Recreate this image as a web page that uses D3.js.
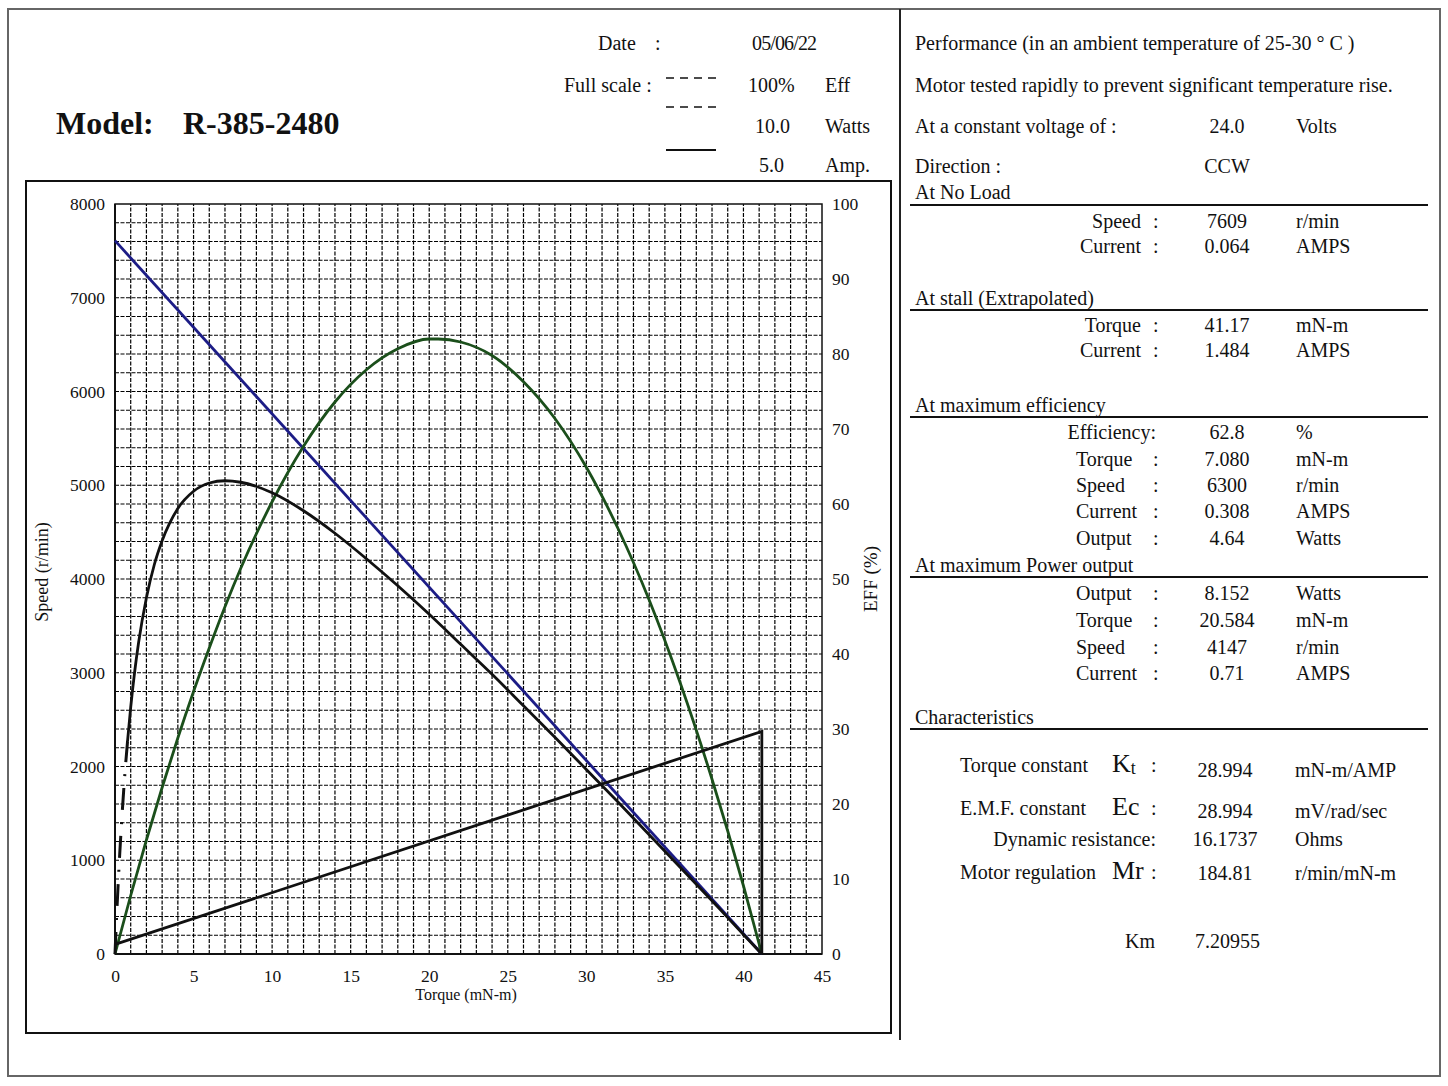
<!DOCTYPE html>
<html>
<head>
<meta charset="utf-8">
<script src="https://cdn.jsdelivr.net/npm/d3@7"></script>
<style>
  body { margin: 0; background: #fff; }
  svg text { font-family: "Liberation Serif", "Times New Roman", serif; fill: #111; }
</style>
</head>
<body>
<svg width="1448" height="1086"></svg>
<script>
// values
const xTicks = [0, 5, 10, 15, 20, 25, 30, 35, 40, 45]
const speedTicks = [0, 1000, 2000, 3000, 4000, 5000, 6000, 7000, 8000]
const pctTicks = [0, 10, 20, 30, 40, 50, 60, 70, 80, 90, 100]

const speedTorque = [0, 41.17]
const speedRpm = [7609, 0]

const effTorque = [0, 0.1, 0.2, 0.3, 0.4, 0.6, 0.8, 1, 1.25, 1.5, 2, 2.5, 3, 4, 5, 6, 7, 8, 10, 12, 14, 16, 18, 20, 22, 24, 26, 28, 30, 32, 34, 36, 38, 40, 41.17]
const effPct = [0, 4.9, 9.3, 13.3, 16.9, 23.2, 28.4, 32.9, 37.6, 41.5, 47.5, 51.9, 55.1, 59.4, 61.7, 62.8, 63.1, 62.9, 61.5, 59.1, 56.1, 52.7, 49.1, 45.3, 41.3, 37.3, 33.1, 28.9, 24.6, 20.3, 15.9, 11.5, 7.1, 2.6, 0]
const effDashedUpTo = 0.8   // low-torque part drawn dash-dot

const powerTorque = [0, 1, 2, 3, 4, 5, 6, 7, 8, 10, 12, 14, 16, 18, 20, 20.58, 22, 24, 26, 28, 30, 32, 34, 36, 38, 40, 41.17]
const powerW = [0, 0.78, 1.52, 2.22, 2.88, 3.50, 4.08, 4.63, 5.14, 6.03, 6.77, 7.36, 7.79, 8.07, 8.20, 8.20, 8.16, 7.98, 7.63, 7.14, 6.49, 5.68, 4.72, 3.60, 2.33, 0.91, 0]

const currentTorque = [0, 41.17, 41.17]
const currentA = [0.064, 1.484, 0]

const fullScaleEff = 100, fullScaleWatts = 10.0, fullScaleAmp = 5.0

var svg = d3.select("svg")

// frames
svg.append("rect").attr("x", 8).attr("y", 9).attr("width", 1432).attr("height", 1067)
  .attr("fill", "none").attr("stroke", "#666").attr("stroke-width", 2)
svg.append("line").attr("x1", 900).attr("x2", 900).attr("y1", 9).attr("y2", 1040)
  .attr("stroke", "#222").attr("stroke-width", 2)
svg.append("rect").attr("x", 26).attr("y", 181).attr("width", 865).attr("height", 852)
  .attr("fill", "none").attr("stroke", "#111").attr("stroke-width", 2)

// header
svg.append("text").attr("x", 56).attr("y", 134).attr("font-size", 32).attr("font-weight", "bold").text("Model:")
svg.append("text").attr("x", 183).attr("y", 134).attr("font-size", 32).attr("font-weight", "bold").text("R-385-2480")

var hdr = svg.append("g").attr("font-size", 20)
hdr.append("text").attr("x", 598).attr("y", 50).text("Date")
hdr.append("text").attr("x", 655).attr("y", 50).text(":")
hdr.append("text").attr("x", 752).attr("y", 50).attr("textLength", 65).text("05/06/22")
hdr.append("text").attr("x", 564).attr("y", 92).text("Full scale :")
hdr.append("text").attr("x", 748).attr("y", 92).text("100%")
hdr.append("text").attr("x", 825).attr("y", 92).text("Eff")
hdr.append("text").attr("x", 755).attr("y", 133).text("10.0")
hdr.append("text").attr("x", 825).attr("y", 133).text("Watts")
hdr.append("text").attr("x", 759).attr("y", 172).text("5.0")
hdr.append("text").attr("x", 825).attr("y", 172).text("Amp.")
hdr.append("line").attr("x1", 666).attr("x2", 716).attr("y1", 78).attr("y2", 78)
  .attr("stroke", "#111").attr("stroke-width", 1.5).attr("stroke-dasharray", "8,6")
hdr.append("line").attr("x1", 666).attr("x2", 716).attr("y1", 107).attr("y2", 107)
  .attr("stroke", "#111").attr("stroke-width", 1.5).attr("stroke-dasharray", "8,6")
hdr.append("line").attr("x1", 666).attr("x2", 716).attr("y1", 150).attr("y2", 150)
  .attr("stroke", "#111").attr("stroke-width", 2)

// chart
var x = d3.scaleLinear().domain([0, 45]).range([115, 822])
var yS = d3.scaleLinear().domain([0, 8000]).range([954, 204])
var yP = d3.scaleLinear().domain([0, 100]).range([954, 204])

var grid = svg.append("g").attr("stroke", "#000").attr("stroke-width", 1.2).attr("stroke-dasharray", "4,1.5")
grid.selectAll("line.v").data(d3.range(1, 45)).enter().append("line")
  .attr("x1", d => x(d)).attr("x2", d => x(d)).attr("y1", yS(0)).attr("y2", yS(8000))
grid.selectAll("line.h").data(d3.range(200, 8000, 200)).enter().append("line")
  .attr("y1", d => yS(d)).attr("y2", d => yS(d)).attr("x1", x(0)).attr("x2", x(45))

svg.append("rect").attr("x", x(0)).attr("y", yS(8000)).attr("width", x(45) - x(0)).attr("height", yS(0) - yS(8000))
  .attr("fill", "none").attr("stroke", "#111").attr("stroke-width", 1.5)
svg.append("line").attr("x1", x(0)).attr("x2", x(0)).attr("y1", yS(0)).attr("y2", yS(8000)).attr("stroke", "#111").attr("stroke-width", 2)
svg.append("line").attr("x1", x(0)).attr("x2", x(45)).attr("y1", yS(0)).attr("y2", yS(0)).attr("stroke", "#111").attr("stroke-width", 2)

var xAxis = svg.append("g").attr("transform", `translate(0,${yS(0)})`)
  .call(d3.axisBottom(x).tickValues(xTicks).tickSize(0).tickPadding(16).tickFormat(d3.format("d")))
var lAxis = svg.append("g").attr("transform", `translate(${x(0) - 10},0)`)
  .call(d3.axisLeft(yS).tickValues(speedTicks).tickSize(0).tickPadding(0).tickFormat(d3.format("d")))
var rAxis = svg.append("g").attr("transform", `translate(${x(45) + 10},0)`)
  .call(d3.axisRight(yP).tickValues(pctTicks).tickSize(0).tickPadding(0).tickFormat(d3.format("d")))
;[xAxis, lAxis, rAxis].forEach(function(a){
  a.select(".domain").remove()
  a.selectAll("text").attr("font-size", 17.5).attr("font-family", '"Liberation Serif", serif').attr("fill", "#111")
})

svg.append("text").attr("x", 466).attr("y", 1000).attr("text-anchor", "middle").attr("font-size", 16).text("Torque (mN-m)")
svg.append("text").attr("transform", "translate(48,572) rotate(-90)").attr("text-anchor", "middle").attr("font-size", 18).text("Speed (r/min)")
svg.append("text").attr("transform", "translate(877,579) rotate(-90)").attr("text-anchor", "middle").attr("font-size", 19).text("EFF (%)")

// curves
var speedData = speedTorque.map((t, i) => [t, speedRpm[i]])
svg.append("path").datum(speedData)
  .attr("d", d3.line().x(d => x(d[0])).y(d => yS(d[1])))
  .attr("fill", "none").attr("stroke", "#1c1c86").attr("stroke-width", 2.8)

var powerData = powerTorque.map((t, i) => [t, powerW[i] / fullScaleWatts * 100])
svg.append("path").datum(powerData)
  .attr("d", d3.line().curve(d3.curveMonotoneX).x(d => x(d[0])).y(d => yP(d[1])))
  .attr("fill", "none").attr("stroke", "#1b4f1b").attr("stroke-width", 2.8)

var currentData = currentTorque.map((t, i) => [t, currentA[i] / fullScaleAmp * 100])
svg.append("path").datum(currentData)
  .attr("d", d3.line().x(d => x(d[0])).y(d => yP(d[1])))
  .attr("fill", "none").attr("stroke", "#111").attr("stroke-width", 2.8)

var effData = effTorque.map((t, i) => [t, effPct[i] / fullScaleEff * 100])
var effLine = d3.line().curve(d3.curveMonotoneX).x(d => x(d[0])).y(d => yP(d[1]))
svg.append("path").datum(effData.filter(d => d[0] <= effDashedUpTo))
  .attr("d", effLine)
  .attr("fill", "none").attr("stroke", "#111").attr("stroke-width", 3).attr("stroke-dasharray", "22,12,2,12")
svg.append("path").datum(effData.filter(d => d[0] >= effDashedUpTo))
  .attr("d", effLine)
  .attr("fill", "none").attr("stroke", "#111").attr("stroke-width", 2.8)

// right panel
var rp = svg.append("g").attr("font-size", 20)
var rightLines = [
  ["Performance (in an ambient temperature of 25-30 ° C )", 50],
  ["Motor tested rapidly to prevent significant temperature rise.", 92],
  ["At a constant voltage of :", 133],
  ["Direction :", 173],
  ["At No Load", 199],
  ["At stall (Extrapolated)", 305],
  ["At maximum efficiency", 412],
  ["At maximum Power output", 572],
  ["Characteristics", 724]
]
rp.selectAll("text.h").data(rightLines).enter().append("text")
  .attr("x", 915).attr("y", d => d[1]).text(d => d[0])
rp.append("text").attr("x", 1227).attr("y", 133).attr("text-anchor", "middle").text("24.0")
rp.append("text").attr("x", 1296).attr("y", 133).text("Volts")
rp.append("text").attr("x", 1227).attr("y", 173).attr("text-anchor", "middle").text("CCW")

var ruleY = [205, 310, 417, 577, 729]
rp.selectAll("line").data(ruleY).enter().append("line")
  .attr("x1", 910).attr("x2", 1428).attr("y1", d => d).attr("y2", d => d)
  .attr("stroke", "#111").attr("stroke-width", 2)

// label, value, unit, baseline, alignment
var rows = [
  ["Speed", "7609", "r/min", 228, "end"],
  ["Current", "0.064", "AMPS", 253, "end"],
  ["Torque", "41.17", "mN-m", 332, "end"],
  ["Current", "1.484", "AMPS", 357, "end"],
  ["Efficiency:", "62.8", "%", 439, "eff"],
  ["Torque", "7.080", "mN-m", 466, "start"],
  ["Speed", "6300", "r/min", 492, "start"],
  ["Current", "0.308", "AMPS", 518, "start"],
  ["Output", "4.64", "Watts", 545, "start"],
  ["Output", "8.152", "Watts", 600, "start"],
  ["Torque", "20.584", "mN-m", 627, "start"],
  ["Speed", "4147", "r/min", 654, "start"],
  ["Current", "0.71", "AMPS", 680, "start"]
]
rows.forEach(function(r){
  if (r[4] == "eff") {
    rp.append("text").attr("x", 1156).attr("y", r[3]).attr("text-anchor", "end").text(r[0])
  } else {
    rp.append("text").attr("x", r[4] == "end" ? 1141 : 1076).attr("y", r[3]).attr("text-anchor", r[4]).text(r[0])
    rp.append("text").attr("x", 1153).attr("y", r[3]).text(":")
  }
  rp.append("text").attr("x", 1227).attr("y", r[3]).attr("text-anchor", "middle").text(r[1])
  rp.append("text").attr("x", 1296).attr("y", r[3]).text(r[2])
})

// characteristics
var ch = [
  ["Torque constant", "K", "t", "28.994", "mN-m/AMP", 772, 777],
  ["E.M.F. constant", "Ec", "", "28.994", "mV/rad/sec", 815, 818],
  ["Motor regulation", "Mr", "", "184.81", "r/min/mN-m", 879, 880]
]
ch.forEach(function(c){
  rp.append("text").attr("x", 960).attr("y", c[5]).text(c[0])
  var s = rp.append("text").attr("x", 1112).attr("y", c[5]).attr("font-size", 26).text(c[1])
  if (c[2]) s.append("tspan").attr("font-size", 18).attr("dy", 2).text(c[2])
  rp.append("text").attr("x", 1151).attr("y", c[5]).text(":")
  rp.append("text").attr("x", 1225).attr("y", c[6]).attr("text-anchor", "middle").text(c[3])
  rp.append("text").attr("x", 1295).attr("y", c[6]).text(c[4])
})
rp.append("text").attr("x", 1156).attr("y", 846).attr("text-anchor", "end").text("Dynamic resistance:")
rp.append("text").attr("x", 1225).attr("y", 846).attr("text-anchor", "middle").text("16.1737")
rp.append("text").attr("x", 1295).attr("y", 846).text("Ohms")
rp.append("text").attr("x", 1125).attr("y", 948).text("Km")
rp.append("text").attr("x", 1195).attr("y", 948).text("7.20955")
</script>
</body>
</html>
